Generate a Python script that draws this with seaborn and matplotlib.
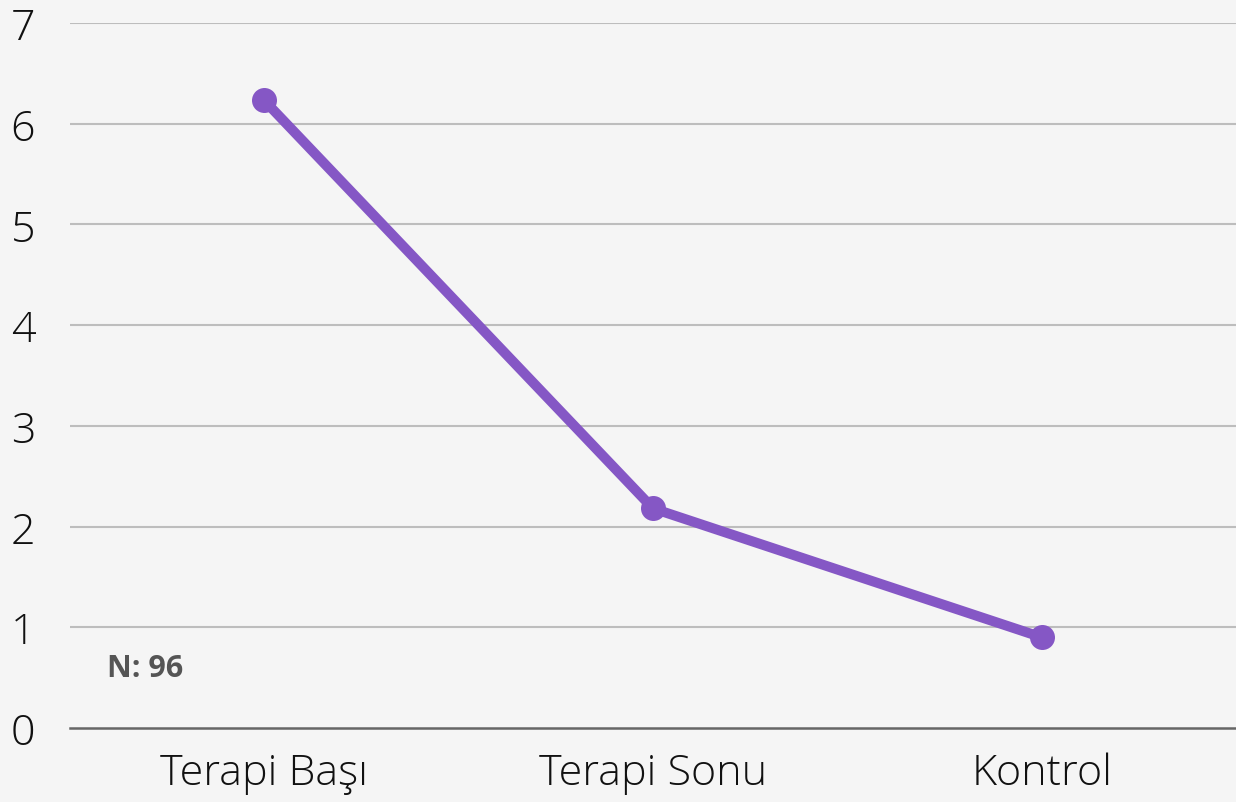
import matplotlib
matplotlib.use('Agg')
import matplotlib.pyplot as plt
import seaborn as sns
import pandas as pd

# data
categories = ['Terapi Başı', 'Terapi Sonu', 'Kontrol']
values = [6.23, 2.18, 0.90]
y_ticks = [0, 1, 2, 3, 4, 5, 6, 7]
note = 'N: 96'

df = pd.DataFrame({'grup': categories, 'deger': values})

sns.set_style('white')
plt.rcParams['font.family'] = ['Open Sans', 'DejaVu Sans']

fig = plt.figure(figsize=(12.36, 8.03), dpi=100, facecolor='#F5F5F5')
ax = fig.add_axes([0.0566, 0.0922, 0.9434, 0.878])
ax.set_facecolor('#F5F5F5')

for t in y_ticks[1:]:
    ax.axhline(t, color='#BDBDBD', linewidth=1.5, zorder=0)

sns.lineplot(data=df, x='grup', y='deger', sort=False, ax=ax,
             color='#8557C5', linewidth=7.2, marker='o', markersize=18,
             markeredgewidth=0, zorder=3)

ax.set_xlim(-0.5, 2.5)
ax.set_ylim(0, 7)
ax.set_yticks(y_ticks)
ax.set_xlabel('')
ax.set_ylabel('')

for s in ['top', 'right', 'left']:
    ax.spines[s].set_visible(False)
ax.spines['bottom'].set_color('#666666')
ax.spines['bottom'].set_linewidth(1.8)

ax.tick_params(axis='both', length=0, labelcolor='#111111')
ax.tick_params(axis='y', pad=25, labelsize=31)
ax.tick_params(axis='x', pad=17, labelsize=31)
for lab in ax.get_xticklabels() + ax.get_yticklabels():
    lab.set_fontweight('light')

ax.text(-0.405, 0.6, note, fontsize=22, fontweight='bold', color='#555555',
        va='center', ha='left')

fig.savefig('out.png', dpi=100, facecolor=fig.get_facecolor())
